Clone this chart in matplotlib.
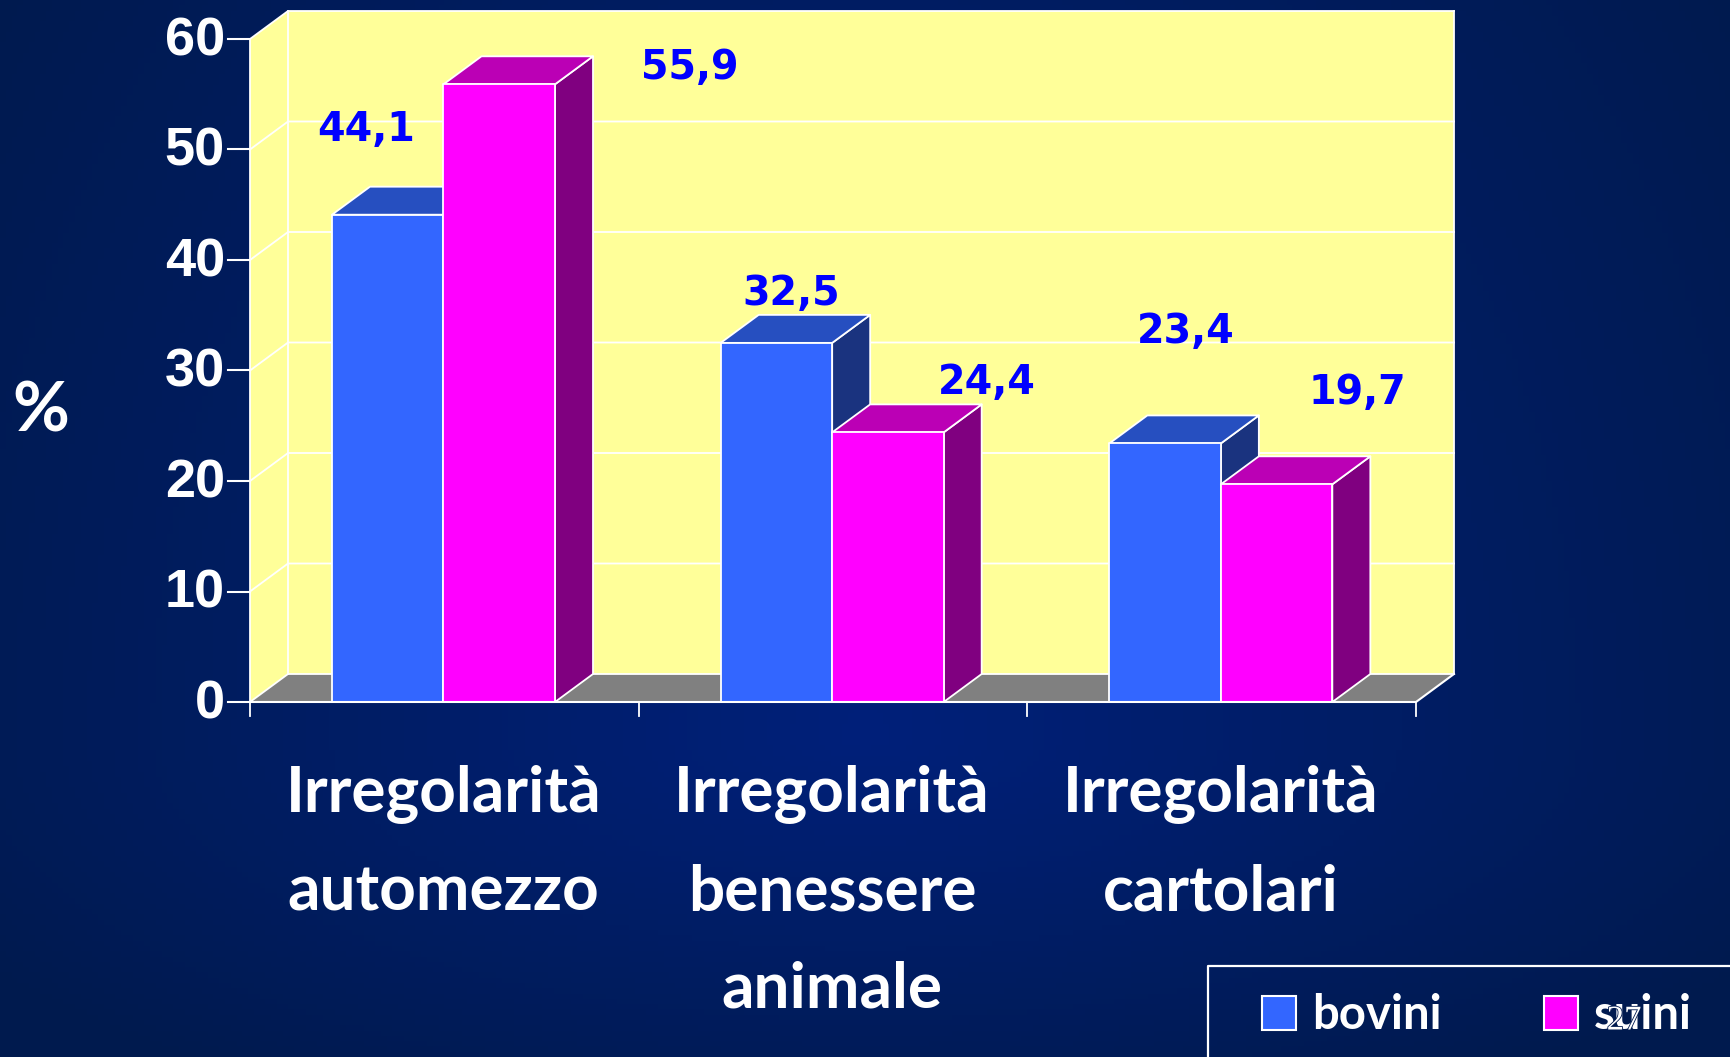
import numpy as np
import matplotlib
matplotlib.use("Agg")
import matplotlib.pyplot as plt
import matplotlib.patheffects as pe
from matplotlib.patches import Polygon, Rectangle

categories = ["Irregolarità\nautomezzo", "Irregolarità\nbenessere\nanimale", "Irregolarità\ncartolari"]
series_names = ["bovini", "suini"]
bovini = [44.1, 32.5, 23.4]
suini = [55.9, 24.4, 19.7]
bovini_labels = ["44,1", "32,5", "23,4"]
suini_labels = ["55,9", "24,4", "19,7"]
yticks = [0, 10, 20, 30, 40, 50, 60]

W, H = 1731, 1057
X0, Y0 = 250, 702          # pixel position of category 0 / value 0
XU, YU = 388.67, 11.05     # pixels per category / per percent
DX, DY = 38 / XU, 28 / YU  # depth of the fake 3d box
BW = 111.5 / XU
GAP = 82 / XU

BLUE = ["#3366ff", "#264fc0", "#1a337f"]
PINK = ["#ff00ff", "#bb00b5", "#800080"]
LABEL_FONT = ["Lato", "DejaVu Sans"]

fig = plt.figure(figsize=(W / 100, H / 100), dpi=100)
ax = fig.add_axes([0, 0, 1, 1])
ax.set_xlim(-X0 / XU, (W - X0) / XU)
ax.set_ylim((Y0 - H) / YU, Y0 / YU)
ax.axis("off")

# background glow, brightest low in the middle and fading fast to the sides
yy, xx = np.mgrid[0:1:200j, 0:1:300j]
ry = np.where(yy < 0.3, 0.4, 1.3)
r = np.sqrt(((xx - 0.5) / 0.62) ** 2 + ((yy - 0.3) / ry) ** 2).clip(0, 1)
inner, outer = np.array([0, 32, 122]) / 255, np.array([0, 26, 78]) / 255
bg = inner + (outer - inner) * r[..., None]
ax.imshow(bg, extent=ax.get_xlim() + ax.get_ylim(), aspect="auto", zorder=0, origin="lower")

ncat = len(categories)
top = yticks[-1]
wall = dict(facecolor="#ffff99", edgecolor="none", zorder=1)
ax.add_patch(Polygon([(DX, DY), (ncat + DX, DY), (ncat + DX, top + DY), (DX, top + DY)], **wall))
ax.add_patch(Polygon([(0, 0), (DX, DY), (DX, top + DY), (0, top)], **wall))
ax.add_patch(Polygon([(0, 0), (ncat, 0), (ncat + DX, DY), (DX, DY)], facecolor="#808080", edgecolor="none", zorder=1))

# grid on the walls
for t in yticks:
    ax.plot([0, DX, ncat + DX], [t, t + DY, t + DY], color="white", lw=1.3, zorder=2)
    ax.plot([-22 / XU, 0], [t, t], color="white", lw=1.5, zorder=2)
    ax.text(-25 / XU, t - 0.2, str(t), ha="right", va="center", color="white", fontsize=39,
            fontweight="bold", family="Liberation Sans", zorder=6)
ax.plot([DX, DX], [DY, top + DY], color="white", lw=1.3, zorder=2)
ax.plot([ncat + DX, ncat + DX], [DY, top + DY], color="white", lw=1.3, zorder=2)
ax.plot([0, 0], [0, top], color="white", lw=1.3, zorder=2)
ax.plot([0, ncat, ncat + DX], [0, 0, DY], color="white", lw=1.5, zorder=5)
for i in range(ncat + 1):
    ax.plot([i, i], [0, -14 / YU], color="white", lw=1.3, zorder=2)


def bar3d(x, h, cols, z):
    ec = dict(edgecolor="white", linewidth=1.3, zorder=z, joinstyle="round")
    ax.add_patch(Polygon([(x + BW, 0), (x + BW + DX, DY), (x + BW + DX, h + DY), (x + BW, h)], facecolor=cols[2], **ec))
    ax.add_patch(Polygon([(x, h), (x + BW, h), (x + BW + DX, h + DY), (x + DX, h + DY)], facecolor=cols[1], **ec))
    ax.add_patch(Rectangle((x, 0), BW, h, facecolor=cols[0], **ec))


for i in range(ncat):
    bar3d(i + GAP, bovini[i], BLUE, 3)
    bar3d(i + GAP + BW, suini[i], PINK, 4)

# value labels sit off the bars, as placed by hand in the slide
blab_pos = [(366, 130), (791, 294), (1186, 332)]
slab_pos = [(690, 68), (987, 383), (1357, 393)]
for (px, py), s in zip(blab_pos + slab_pos, bovini_labels + suini_labels):
    ax.text((px - X0) / XU, (Y0 - py) / YU, s, ha="center", va="center", color="#0000ff",
            fontsize=28.5, fontweight="bold", family="DejaVu Sans", zorder=7)

# category labels
line_y = [794, 892, 989]
for i, c in enumerate(categories):
    for j, line in enumerate(c.split("\n")):
        ax.text(i + GAP + BW, (Y0 - line_y[j]) / YU, line, ha="center", va="center", color="white",
                fontsize=46, fontweight="bold", family=LABEL_FONT, zorder=7)

ax.text(-209 / XU, (Y0 - 412) / YU, "%", ha="center", va="center", color="white", fontsize=50,
        fontweight="bold", family=LABEL_FONT, zorder=7)

# legend box runs off the slide
ax.plot([(W + 5 - X0) / XU, (1208 - X0) / XU, (1208 - X0) / XU], [(Y0 - 966) / YU, (Y0 - 966) / YU, (Y0 - H - 5) / YU],
        color="white", lw=1.6, zorder=7)
for name, col, sx, tx in zip(series_names, [BLUE[0], PINK[0]], [1262, 1544], [1312, 1594]):
    ax.add_patch(Rectangle(((sx - X0) / XU, (Y0 - 1030) / YU), 34 / XU, 34 / YU, facecolor=col,
                           edgecolor="white", linewidth=1.5, zorder=8))
    ax.text((tx - X0) / XU, (Y0 - 1015) / YU, name, ha="left", va="center", color="white",
            fontsize=34, fontweight="bold", family=LABEL_FONT, zorder=8)

# slide number overlapping the legend
ax.text((1624 - X0) / XU, (Y0 - 1021) / YU, "27", ha="center", va="center", color="white",
        fontsize=25, family="Liberation Serif", zorder=9,
        path_effects=[pe.withStroke(linewidth=1.2, foreground="#001a50")])

fig.savefig("out.png", dpi=100)
